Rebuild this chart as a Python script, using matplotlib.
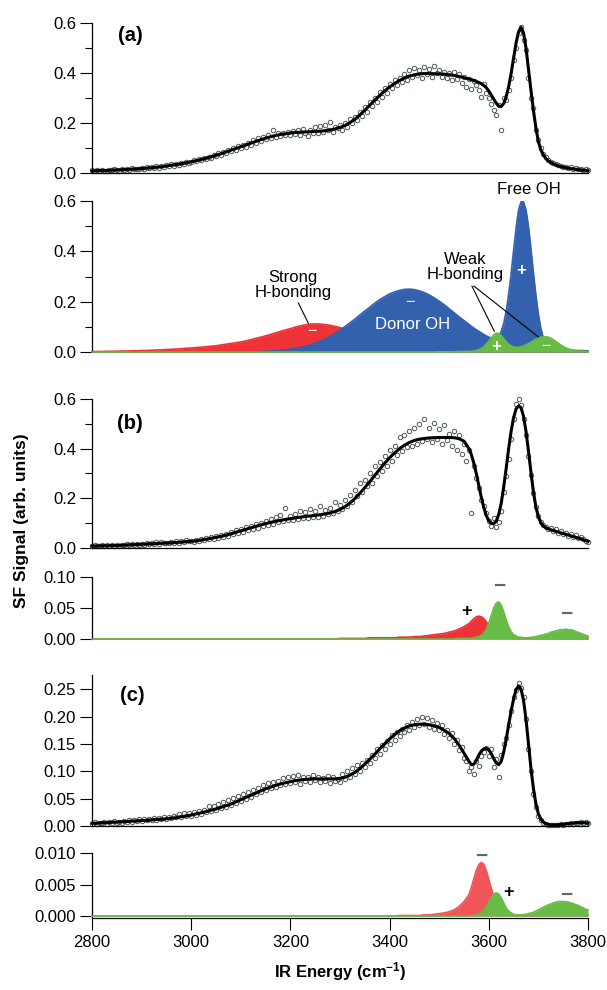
import numpy as np
import matplotlib
matplotlib.use('Agg')
import matplotlib.pyplot as plt
from matplotlib.ticker import MultipleLocator, FormatStrFormatter

plt.rcParams['font.family'] = ['Liberation Sans', 'DejaVu Sans']
plt.rcParams['mathtext.default'] = 'regular'

# energy axis (cm-1): fits / components on a 10 cm-1 grid, 5 cm-1 above 3560
GRID = np.concatenate([np.arange(2800, 3560, 10), np.arange(3560, 3805, 5)])
# measured points every 5 cm-1
DATA_X = np.arange(2800, 3805, 5)

# ---- (a) ----
DATA_A = [
	0.010, 0.006, 0.011, 0.008, 0.012, 0.009, 0.007, 0.013, 0.010, 0.014,
	0.011, 0.009, 0.016, 0.012, 0.015, 0.011, 0.018, 0.014, 0.017, 0.015,
	0.020, 0.016, 0.022, 0.018, 0.024, 0.020, 0.026, 0.021, 0.028, 0.024,
	0.031, 0.027, 0.035, 0.029, 0.037, 0.033, 0.041, 0.036, 0.045, 0.040,
	0.043, 0.050, 0.046, 0.055, 0.051, 0.060, 0.056, 0.065, 0.061, 0.072,
	0.066, 0.079, 0.073, 0.085, 0.079, 0.092, 0.086, 0.099, 0.093, 0.107,
	0.098, 0.112, 0.104, 0.121, 0.113, 0.130, 0.120, 0.138, 0.127, 0.143,
	0.134, 0.152, 0.138, 0.170, 0.145, 0.158, 0.146, 0.160, 0.150, 0.165,
	0.153, 0.168, 0.155, 0.170, 0.150, 0.175, 0.158, 0.148, 0.172, 0.160,
	0.182, 0.158, 0.186, 0.165, 0.192, 0.170, 0.205, 0.165, 0.185, 0.178,
	0.190, 0.170, 0.200, 0.185, 0.215, 0.198, 0.225, 0.210, 0.245, 0.228,
	0.262, 0.245, 0.283, 0.268, 0.300, 0.285, 0.322, 0.305, 0.340, 0.320,
	0.355, 0.340, 0.372, 0.350, 0.380, 0.362, 0.395, 0.372, 0.410, 0.385,
	0.420, 0.392, 0.410, 0.378, 0.425, 0.395, 0.415, 0.385, 0.428, 0.400,
	0.410, 0.383, 0.405, 0.378, 0.398, 0.370, 0.402, 0.375, 0.395, 0.360,
	0.385, 0.345, 0.375, 0.335, 0.368, 0.350, 0.330, 0.305, 0.355, 0.320,
	0.300, 0.275, 0.250, 0.230, 0.270, 0.170, 0.300, 0.290, 0.330, 0.380,
	0.450, 0.500, 0.560, 0.585, 0.530, 0.490, 0.380, 0.300, 0.260, 0.170,
	0.130, 0.098, 0.075, 0.064, 0.052, 0.045, 0.040, 0.036, 0.030, 0.027,
	0.025, 0.024, 0.020, 0.022, 0.017, 0.019, 0.014, 0.016, 0.012, 0.015,
	0.011]
FIT_A = [
	0.008, 0.009, 0.010, 0.010, 0.011, 0.012, 0.013, 0.014, 0.015, 0.016,
	0.018, 0.019, 0.021, 0.023, 0.025, 0.028, 0.031, 0.034, 0.037, 0.041,
	0.045, 0.049, 0.054, 0.059, 0.065, 0.071, 0.077, 0.084, 0.091, 0.098,
	0.105, 0.112, 0.119, 0.126, 0.133, 0.139, 0.145, 0.150, 0.154, 0.157,
	0.160, 0.162, 0.163, 0.164, 0.165, 0.166, 0.167, 0.169, 0.172, 0.176,
	0.182, 0.190, 0.201, 0.215, 0.232, 0.251, 0.271, 0.291, 0.310, 0.328,
	0.344, 0.358, 0.370, 0.380, 0.388, 0.393, 0.396, 0.398, 0.398, 0.397,
	0.396, 0.395, 0.393, 0.390, 0.386, 0.381,
	0.376, 0.373, 0.370, 0.366, 0.362, 0.357, 0.350, 0.341, 0.328,
	0.312, 0.295, 0.279, 0.268, 0.266, 0.278, 0.305, 0.345,
	0.398, 0.460, 0.520, 0.565, 0.582, 0.560, 0.500, 0.415,
	0.330, 0.250, 0.180, 0.125, 0.092, 0.072, 0.058, 0.048,
	0.042, 0.036, 0.032, 0.028, 0.025, 0.023, 0.021, 0.019,
	0.017, 0.016, 0.014, 0.013, 0.012, 0.011, 0.010, 0.009]

# components of (a): strong H-bonding (red), donor + free OH (blue), weak H-bonding (green)
RED_A = [
	0.002, 0.002, 0.002, 0.003, 0.003, 0.003, 0.004, 0.004, 0.005, 0.005,
	0.006, 0.006, 0.007, 0.008, 0.009, 0.010, 0.011, 0.012, 0.013, 0.015,
	0.016, 0.018, 0.019, 0.021, 0.023, 0.025, 0.028, 0.031, 0.034, 0.037,
	0.040, 0.044, 0.049, 0.054, 0.059, 0.064, 0.070, 0.076, 0.082, 0.088,
	0.093, 0.099, 0.104, 0.108, 0.111, 0.112, 0.111, 0.109, 0.106, 0.102,
	0.097, 0.091, 0.085, 0.078, 0.070, 0.062, 0.054, 0.046, 0.039, 0.033,
	0.027, 0.022, 0.018, 0.015, 0.012, 0.010, 0.008, 0.007, 0.006, 0.005,
	0.004, 0.004, 0.003, 0.003, 0.003, 0.003,
	0.003, 0.003, 0.003, 0.003, 0.003, 0.003, 0.003, 0.003, 0.003,
	0.002, 0.002, 0.002, 0.002, 0.002, 0.002, 0.002, 0.002,
	0.002, 0.002, 0.002, 0.002, 0.002, 0.002, 0.002, 0.002,
	0.002, 0.002, 0.002, 0.002, 0.002, 0.002, 0.002, 0.002,
	0.002, 0.002, 0.002, 0.002, 0.002, 0.002, 0.002, 0.002,
	0.002, 0.002, 0.002, 0.002, 0.002, 0.002, 0.002, 0.002]
BLUE_A = [
	0.000, 0.000, 0.000, 0.000, 0.000, 0.000, 0.000, 0.000, 0.000, 0.000,
	0.000, 0.000, 0.000, 0.000, 0.000, 0.000, 0.000, 0.000, 0.000, 0.000,
	0.000, 0.000, 0.000, 0.000, 0.000, 0.000, 0.000, 0.000, 0.000, 0.000,
	0.0004, 0.0006, 0.0009, 0.0013, 0.0018, 0.0025, 0.0035, 0.0047, 0.0062, 0.0083,
	0.011, 0.014, 0.018, 0.023, 0.028, 0.035, 0.043, 0.052, 0.063, 0.074,
	0.087, 0.101, 0.116, 0.131, 0.147, 0.163, 0.178, 0.194, 0.208, 0.220,
	0.231, 0.239, 0.245, 0.249, 0.250, 0.248, 0.243, 0.236, 0.227, 0.215,
	0.202, 0.188, 0.172, 0.156, 0.140, 0.125,
	0.110, 0.102, 0.095, 0.088, 0.082, 0.076, 0.070, 0.064, 0.059,
	0.056, 0.055, 0.056, 0.065, 0.082, 0.113, 0.162, 0.229,
	0.311, 0.404, 0.493, 0.565, 0.597, 0.597, 0.565, 0.500,
	0.410, 0.314, 0.225, 0.150, 0.094, 0.056, 0.031, 0.017,
	0.012, 0.010, 0.009, 0.009, 0.008, 0.008, 0.008, 0.007,
	0.007, 0.007, 0.006, 0.006, 0.006, 0.006, 0.005, 0.005]
GREEN_A = [
	0.000, 0.000, 0.000, 0.000, 0.000, 0.000, 0.000, 0.000, 0.000, 0.000,
	0.000, 0.000, 0.000, 0.000, 0.000, 0.000, 0.000, 0.000, 0.000, 0.000,
	0.000, 0.000, 0.000, 0.000, 0.000, 0.000, 0.000, 0.000, 0.000, 0.000,
	0.000, 0.000, 0.000, 0.000, 0.000, 0.000, 0.000, 0.000, 0.000, 0.000,
	0.000, 0.000, 0.000, 0.000, 0.000, 0.000, 0.000, 0.000, 0.000, 0.000,
	0.000, 0.000, 0.000, 0.000, 0.000, 0.000, 0.000, 0.000, 0.000, 0.000,
	0.000, 0.000, 0.000, 0.000, 0.000, 0.000, 0.000, 0.000, 0.000, 0.000,
	0.001, 0.001, 0.001, 0.001, 0.002, 0.002,
	0.002, 0.003, 0.004, 0.006, 0.009, 0.014, 0.021, 0.031, 0.043,
	0.056, 0.068, 0.075, 0.073, 0.065, 0.053, 0.041, 0.031,
	0.024, 0.020, 0.019, 0.019, 0.021, 0.024, 0.028, 0.033,
	0.039, 0.045, 0.051, 0.056, 0.059, 0.061, 0.061, 0.059,
	0.055, 0.049, 0.042, 0.035, 0.028, 0.022, 0.017, 0.013,
	0.010, 0.008, 0.006, 0.005, 0.004, 0.003, 0.003, 0.002]

# ---- (b) ----
DATA_B = [
	0.007, 0.010, 0.006, 0.009, 0.011, 0.007, 0.010, 0.008, 0.012, 0.009,
	0.011, 0.008, 0.013, 0.010, 0.014, 0.011, 0.015, 0.012, 0.016, 0.013,
	0.017, 0.013, 0.019, 0.015, 0.021, 0.016, 0.023, 0.017, 0.025, 0.019,
	0.022, 0.018, 0.026, 0.020, 0.028, 0.022, 0.030, 0.025, 0.033, 0.027,
	0.030, 0.024, 0.034, 0.028, 0.038, 0.031, 0.040, 0.035, 0.044, 0.037,
	0.048, 0.040, 0.054, 0.044, 0.058, 0.050, 0.066, 0.055, 0.072, 0.060,
	0.078, 0.064, 0.084, 0.072, 0.090, 0.078, 0.098, 0.082, 0.102, 0.090,
	0.108, 0.094, 0.118, 0.098, 0.125, 0.105, 0.132, 0.110, 0.160, 0.112,
	0.128, 0.112, 0.135, 0.118, 0.150, 0.120, 0.145, 0.122, 0.158, 0.124,
	0.150, 0.126, 0.170, 0.130, 0.152, 0.138, 0.160, 0.142, 0.185, 0.150,
	0.172, 0.155, 0.195, 0.168, 0.212, 0.185, 0.232, 0.208, 0.260, 0.225,
	0.275, 0.250, 0.300, 0.262, 0.330, 0.290, 0.345, 0.310, 0.372, 0.330,
	0.395, 0.350, 0.410, 0.375, 0.445, 0.390, 0.455, 0.405, 0.470, 0.410,
	0.485, 0.420, 0.500, 0.430, 0.520, 0.440, 0.485, 0.425, 0.505, 0.440,
	0.480, 0.420, 0.495, 0.435, 0.460, 0.410, 0.470, 0.395, 0.455, 0.380,
	0.420, 0.350, 0.395, 0.140, 0.330, 0.280, 0.240, 0.195, 0.170, 0.140,
	0.110, 0.090, 0.120, 0.085, 0.105, 0.150, 0.225, 0.290, 0.360, 0.440,
	0.520, 0.580, 0.600, 0.575, 0.520, 0.455, 0.370, 0.295, 0.220, 0.165,
	0.130, 0.105, 0.092, 0.085, 0.075, 0.082, 0.070, 0.075, 0.062, 0.068,
	0.055, 0.060, 0.050, 0.057, 0.045, 0.052, 0.040, 0.046, 0.035, 0.030,
	0.025]
FIT_B = [
	0.008, 0.008, 0.009, 0.009, 0.010, 0.010, 0.011, 0.012, 0.013, 0.014,
	0.015, 0.016, 0.017, 0.018, 0.019, 0.020, 0.021, 0.022, 0.024, 0.025,
	0.027, 0.029, 0.032, 0.035, 0.039, 0.043, 0.047, 0.052, 0.057, 0.063,
	0.069, 0.075, 0.081, 0.087, 0.093, 0.098, 0.103, 0.107, 0.111, 0.115,
	0.118, 0.121, 0.124, 0.127, 0.129, 0.131, 0.134, 0.137, 0.141, 0.147,
	0.155, 0.166, 0.181, 0.199, 0.220, 0.243, 0.267, 0.292, 0.317, 0.341,
	0.363, 0.383, 0.400, 0.414, 0.425, 0.433, 0.438, 0.441, 0.443, 0.444,
	0.445, 0.445, 0.445, 0.444, 0.440, 0.430,
	0.400, 0.375, 0.340, 0.298, 0.250, 0.203, 0.162, 0.130, 0.110,
	0.099, 0.098, 0.108, 0.135, 0.180, 0.245, 0.320, 0.400,
	0.470, 0.525, 0.560, 0.572, 0.565, 0.530, 0.470, 0.390,
	0.305, 0.225, 0.165, 0.125, 0.102, 0.089, 0.082, 0.077,
	0.073, 0.070, 0.067, 0.064, 0.061, 0.058, 0.055, 0.052,
	0.049, 0.046, 0.043, 0.040, 0.037, 0.033, 0.030, 0.027]
RED_B = [
	0.000, 0.000, 0.000, 0.000, 0.000, 0.000, 0.000, 0.000, 0.000, 0.000,
	0.000, 0.000, 0.000, 0.000, 0.000, 0.000, 0.000, 0.000, 0.000, 0.000,
	0.000, 0.000, 0.000, 0.000, 0.000, 0.000, 0.000, 0.000, 0.000, 0.000,
	0.000, 0.000, 0.000, 0.000, 0.000, 0.000, 0.000, 0.000, 0.000, 0.000,
	0.000, 0.000, 0.000, 0.000, 0.000, 0.000, 0.000, 0.000, 0.000, 0.000,
	0.001, 0.001, 0.001, 0.001, 0.001, 0.001, 0.002, 0.002, 0.002, 0.002,
	0.002, 0.002, 0.003, 0.003, 0.003, 0.004, 0.004, 0.005, 0.006, 0.007,
	0.008, 0.009, 0.011, 0.013, 0.016, 0.020,
	0.025, 0.029, 0.033, 0.036, 0.037, 0.036, 0.033, 0.028, 0.022,
	0.016, 0.011, 0.008, 0.005, 0.004, 0.003, 0.002, 0.002,
	0.001, 0.001, 0.001, 0.001, 0.001, 0.001, 0.001, 0.001,
	0.001, 0.001, 0.001, 0.001, 0.001, 0.001, 0.001, 0.001,
	0.001, 0.001, 0.001, 0.001, 0.001, 0.001, 0.001, 0.001,
	0.001, 0.001, 0.001, 0.001, 0.001, 0.001, 0.001, 0.001]
GREEN_B = [
	0.000, 0.000, 0.000, 0.000, 0.000, 0.000, 0.000, 0.000, 0.000, 0.000,
	0.000, 0.000, 0.000, 0.000, 0.000, 0.000, 0.000, 0.000, 0.000, 0.000,
	0.000, 0.000, 0.000, 0.000, 0.000, 0.000, 0.000, 0.000, 0.000, 0.000,
	0.000, 0.000, 0.000, 0.000, 0.000, 0.000, 0.000, 0.000, 0.000, 0.000,
	0.000, 0.000, 0.000, 0.000, 0.000, 0.000, 0.000, 0.000, 0.000, 0.000,
	0.000, 0.000, 0.000, 0.000, 0.000, 0.000, 0.000, 0.000, 0.000, 0.000,
	0.000, 0.000, 0.000, 0.000, 0.000, 0.000, 0.000, 0.000, 0.000, 0.000,
	0.000, 0.000, 0.000, 0.000, 0.001, 0.001,
	0.001, 0.001, 0.002, 0.003, 0.004, 0.006, 0.010, 0.016, 0.026,
	0.038, 0.050, 0.058, 0.060, 0.055, 0.044, 0.031, 0.020,
	0.012, 0.007, 0.005, 0.003, 0.003, 0.002, 0.002, 0.002,
	0.003, 0.003, 0.004, 0.005, 0.006, 0.007, 0.008, 0.009,
	0.011, 0.012, 0.013, 0.014, 0.015, 0.015, 0.016, 0.015,
	0.015, 0.014, 0.012, 0.011, 0.009, 0.008, 0.006, 0.005]

# ---- (c) ----
DATA_C = [
	0.004, 0.007, 0.003, 0.006, 0.005, 0.008, 0.004, 0.007, 0.005, 0.009,
	0.006, 0.008, 0.005, 0.009, 0.007, 0.010, 0.008, 0.011, 0.009, 0.012,
	0.009, 0.012, 0.010, 0.013, 0.010, 0.014, 0.011, 0.015, 0.012, 0.016,
	0.013, 0.017, 0.014, 0.019, 0.016, 0.021, 0.017, 0.023, 0.019, 0.024,
	0.018, 0.026, 0.020, 0.028, 0.022, 0.030, 0.025, 0.036, 0.027, 0.036,
	0.030, 0.040, 0.032, 0.043, 0.035, 0.047, 0.039, 0.051, 0.042, 0.055,
	0.046, 0.058, 0.050, 0.062, 0.053, 0.066, 0.058, 0.070, 0.062, 0.074,
	0.066, 0.078, 0.069, 0.080, 0.072, 0.083, 0.075, 0.088, 0.077, 0.090,
	0.079, 0.091, 0.080, 0.093, 0.076, 0.090, 0.082, 0.089, 0.081, 0.094,
	0.084, 0.090, 0.080, 0.088, 0.082, 0.091, 0.078, 0.089, 0.083, 0.086,
	0.080, 0.095, 0.085, 0.100, 0.090, 0.106, 0.095, 0.111, 0.101, 0.115,
	0.108, 0.120, 0.116, 0.130, 0.125, 0.140, 0.132, 0.148, 0.140, 0.155,
	0.150, 0.166, 0.158, 0.172, 0.165, 0.178, 0.172, 0.185, 0.176, 0.190,
	0.180, 0.196, 0.184, 0.200, 0.186, 0.198, 0.180, 0.194, 0.178, 0.188,
	0.175, 0.184, 0.168, 0.176, 0.160, 0.170, 0.150, 0.158, 0.138, 0.145,
	0.125, 0.118, 0.100, 0.108, 0.095, 0.118, 0.110, 0.128, 0.135, 0.142,
	0.128, 0.140, 0.108, 0.122, 0.090, 0.130, 0.150, 0.160, 0.185, 0.210,
	0.235, 0.248, 0.262, 0.252, 0.235, 0.195, 0.140, 0.100, 0.058, 0.035,
	0.018, 0.010, 0.006, 0.003, 0.002, 0.001, 0.001, 0.002, 0.001, 0.003,
	0.002, 0.004, 0.003, 0.005, 0.004, 0.006, 0.005, 0.007, 0.006, 0.007,
	0.006]
FIT_C = [
	0.005, 0.005, 0.006, 0.006, 0.007, 0.007, 0.008, 0.008, 0.009, 0.009,
	0.010, 0.010, 0.011, 0.012, 0.012, 0.013, 0.014, 0.015, 0.017, 0.018,
	0.020, 0.022, 0.024, 0.026, 0.029, 0.031, 0.034, 0.037, 0.040, 0.044,
	0.048, 0.052, 0.056, 0.060, 0.064, 0.068, 0.071, 0.074, 0.077, 0.079,
	0.081, 0.083, 0.084, 0.085, 0.086, 0.086, 0.086, 0.086, 0.086, 0.086,
	0.087, 0.089, 0.093, 0.098, 0.105, 0.113, 0.122, 0.131, 0.141, 0.150,
	0.159, 0.167, 0.174, 0.179, 0.183, 0.185, 0.186, 0.186, 0.185, 0.183,
	0.180, 0.175, 0.169, 0.160, 0.148, 0.133,
	0.118, 0.112, 0.113, 0.120, 0.130, 0.137, 0.141, 0.142, 0.139,
	0.132, 0.123, 0.115, 0.112, 0.118, 0.135, 0.158, 0.185,
	0.210, 0.232, 0.249, 0.256, 0.250, 0.230, 0.195, 0.150,
	0.105, 0.068, 0.040, 0.022, 0.012, 0.007, 0.004, 0.003,
	0.002, 0.002, 0.002, 0.002, 0.003, 0.003, 0.004, 0.004,
	0.005, 0.005, 0.006, 0.006, 0.006, 0.006, 0.006, 0.005]
RED_C = [
	0.0, 0.0, 0.0, 0.0, 0.0, 0.0, 0.0, 0.0, 0.0, 0.0,
	0.0, 0.0, 0.0, 0.0, 0.0, 0.0, 0.0, 0.0, 0.0, 0.0,
	0.0, 0.0, 0.0, 0.0, 0.0, 0.0, 0.0, 0.0, 0.0, 0.0,
	0.0, 0.0, 0.0, 0.0, 0.0, 0.0, 0.0, 0.0, 0.0, 0.0,
	0.0, 0.0, 0.0, 0.0, 0.0, 0.0, 0.0, 0.0, 0.0, 0.0,
	0.0, 0.0, 0.0, 0.0, 0.0, 0.0, 0.0, 0.0, 0.0, 0.0,
	0.0000, 0.0000, 0.0001, 0.0001, 0.0001, 0.0001, 0.0001, 0.0002, 0.0002, 0.0003,
	0.0004, 0.0005, 0.0007, 0.0010, 0.0015, 0.0023,
	0.0034, 0.0046, 0.0060, 0.0073, 0.0082, 0.0085, 0.0082, 0.0072, 0.0058,
	0.0044, 0.0031, 0.0021, 0.0014, 0.0009, 0.0006, 0.0004, 0.0003,
	0.0002, 0.0002, 0.0001, 0.0001, 0.0001, 0.0001, 0.0001, 0.0001,
	0.0001, 0.0001, 0.0001, 0.0001, 0.0001, 0.0001, 0.0001, 0.0001,
	0.0001, 0.0001, 0.0001, 0.0001, 0.0001, 0.0001, 0.0001, 0.0001,
	0.0001, 0.0001, 0.0001, 0.0001, 0.0001, 0.0001, 0.0001, 0.0001]
GREEN_C = [
	0.0, 0.0, 0.0, 0.0, 0.0, 0.0, 0.0, 0.0, 0.0, 0.0,
	0.0, 0.0, 0.0, 0.0, 0.0, 0.0, 0.0, 0.0, 0.0, 0.0,
	0.0, 0.0, 0.0, 0.0, 0.0, 0.0, 0.0, 0.0, 0.0, 0.0,
	0.0, 0.0, 0.0, 0.0, 0.0, 0.0, 0.0, 0.0, 0.0, 0.0,
	0.0, 0.0, 0.0, 0.0, 0.0, 0.0, 0.0, 0.0, 0.0, 0.0,
	0.0, 0.0, 0.0, 0.0, 0.0, 0.0, 0.0, 0.0, 0.0, 0.0,
	0.0, 0.0, 0.0, 0.0, 0.0, 0.0, 0.0, 0.0, 0.0, 0.0,
	0.0, 0.0, 0.0, 0.0, 0.0, 0.0,
	0.0000, 0.0001, 0.0001, 0.0002, 0.0003, 0.0005, 0.0009, 0.0015, 0.0022,
	0.0030, 0.0035, 0.0037, 0.0035, 0.0029, 0.0021, 0.0013, 0.0008,
	0.0005, 0.0003, 0.0002, 0.0002, 0.0002, 0.0002, 0.0003, 0.0004,
	0.0005, 0.0006, 0.0008, 0.0010, 0.0012, 0.0014, 0.0016, 0.0018,
	0.0019, 0.0021, 0.0022, 0.0023, 0.0023, 0.0023, 0.0023, 0.0022,
	0.0021, 0.0020, 0.0018, 0.0017, 0.0015, 0.0013, 0.0011, 0.0010]

XTICKS = [2800, 3000, 3200, 3400, 3600, 3800]

RED = '#ee3338'
RED_LIGHT = '#f0555a'
BLUE = '#3461ae'
GREEN = '#68bc45'
PT = '#4d5959'
DASH = '#666666'


def style(ax, ylim, major, fmt, minor=None, top=None, bottom=True):
	ax.set_xlim(2800, 3800)
	ax.set_ylim(*ylim)
	ax.spines['top'].set_visible(False)
	ax.spines['right'].set_visible(False)
	ax.spines['bottom'].set_visible(bottom)
	ax.spines['left'].set_linewidth(0.9)
	ax.spines['bottom'].set_linewidth(0.9)
	if top is not None:
		ax.spines['left'].set_bounds(0, top)
	ax.yaxis.set_major_locator(MultipleLocator(major))
	ax.yaxis.set_major_formatter(FormatStrFormatter(fmt))
	if minor:
		ax.yaxis.set_minor_locator(MultipleLocator(minor))
	ax.tick_params(axis='y', which='major', direction='out', length=8.5, width=0.8,
	               labelsize=12, pad=3)
	ax.tick_params(axis='y', which='minor', direction='out', length=5, width=0.8)
	ax.tick_params(axis='x', which='both', bottom=False, labelbottom=False)
	ax.patch.set_alpha(0)


def spectrum(ax, data, fit):
	ax.plot(DATA_X, data, 'o', mfc='none', mec=PT, ms=3.2, mew=0.7, zorder=2, clip_on=False)
	ax.plot(GRID, fit, color='k', lw=2.2, zorder=3, clip_on=False)


def fill(ax, y, color, z):
	ax.fill_between(GRID, 0, y, color=color, lw=0, zorder=z)
	ax.plot(GRID, y, color=color, lw=1.2, zorder=z, clip_on=False)


def sign(ax, x, y, s, color, size=12, weight='bold'):
	ax.text(x, y, s, ha='center', va='center', color=color, fontsize=size,
	        fontweight=weight, zorder=10)


fig = plt.figure(figsize=(6.07, 9.9), dpi=100)
L, W = 0.1516, 0.8171
ax1 = fig.add_axes([L, 0.8253, W, 0.1515])
ax2 = fig.add_axes([L, 0.6444, W, 0.1525])
ax3 = fig.add_axes([L, 0.4465, W, 0.1505])
ax4 = fig.add_axes([L, 0.3545, W, 0.0626])
ax5 = fig.add_axes([L, 0.1657, W, 0.1525])
ax6 = fig.add_axes([L, 0.0727, W, 0.0657])

# (a)
spectrum(ax1, DATA_A, FIT_A)
style(ax1, (0, 0.6), 0.2, '%.1f', minor=0.1)
ax1.text(2877, 0.549, '(a)', fontsize=14.5, fontweight='bold', ha='center', va='center')

fill(ax2, RED_A, RED, 2)
fill(ax2, BLUE_A, BLUE, 3)
fill(ax2, GREEN_A, GREEN, 4)
style(ax2, (0, 0.6), 0.2, '%.1f', minor=0.1, top=0.6, bottom=False)
ax2.text(3681, 0.645, 'Free OH', fontsize=12, ha='center', va='center', clip_on=False)
ax2.text(3205, 0.266, 'Strong\nH-bonding', fontsize=12, ha='center', va='center',
         linespacing=1.0)
ax2.plot([3216, 3236], [0.195, 0.115], color='k', lw=0.8, zorder=6)
ax2.text(3552, 0.337, 'Weak\nH-bonding', fontsize=12, ha='center', va='center',
         linespacing=1.0)
ax2.plot([3566, 3611], [0.262, 0.083], color='k', lw=0.8, zorder=6)
ax2.plot([3570, 3700], [0.262, 0.060], color='k', lw=0.8, zorder=6)
ax2.text(3447, 0.111, 'Donor OH', fontsize=12, color='white', ha='center', va='center',
         zorder=10)
sign(ax2, 3243, 0.080, '\u2212', '#eeeeee', weight='normal')
sign(ax2, 3441, 0.195, '\u2212', '#eeeeee', weight='normal')
sign(ax2, 3665, 0.323, '+', 'white')
sign(ax2, 3615, 0.024, '+', 'white')
sign(ax2, 3716, 0.024, '\u2212', '#eeeeee', weight='normal')

# (b)
spectrum(ax3, DATA_B, FIT_B)
style(ax3, (0, 0.6), 0.2, '%.1f', minor=0.1)
ax3.text(2877, 0.50, '(b)', fontsize=14.5, fontweight='bold', ha='center', va='center')

fill(ax4, RED_B, RED, 2)
fill(ax4, GREEN_B, GREEN, 3)
style(ax4, (0, 0.1), 0.05, '%.2f', top=0.1, bottom=False)
sign(ax4, 3556, 0.045, '+', 'k', size=13)
sign(ax4, 3621, 0.085, '\u2212', DASH, size=15)
sign(ax4, 3757, 0.040, '\u2212', DASH, size=15)

# (c)
spectrum(ax5, DATA_C, FIT_C)
style(ax5, (0, 0.276), 0.05, '%.2f')
ax5.text(2882, 0.239, '(c)', fontsize=14.5, fontweight='bold', ha='center', va='center')

fill(ax6, RED_C, RED_LIGHT, 2)
fill(ax6, GREEN_C, GREEN, 3)
style(ax6, (-0.0003, 0.010), 0.005, '%.3f')
sign(ax6, 3584, 0.0094, '\u2212', DASH, size=15)
sign(ax6, 3640, 0.0037, '+', 'k', size=13)
sign(ax6, 3757, 0.0033, '\u2212', DASH, size=15)
ax6.set_xticks(XTICKS)
ax6.tick_params(axis='x', which='major', bottom=True, labelbottom=True, direction='out',
                length=8.5, width=0.8, labelsize=12, pad=4)

fig.text(0.5602, 0.0182, 'IR Energy (cm$^{-1}$)', fontsize=12, fontweight='bold',
         ha='center', va='center')
fig.text(0.035, 1 - 521 / 990, 'SF Signal (arb. units)', fontsize=12.5, fontweight='bold',
         rotation=90, ha='center', va='center')

fig.savefig('out.png', dpi=100)
